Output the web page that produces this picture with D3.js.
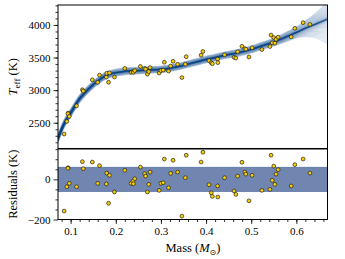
<!DOCTYPE html>
<html>
<head>
<meta charset="utf-8">
<script src="https://cdn.jsdelivr.net/npm/d3@7"></script>
<style>
  html, body { margin: 0; padding: 0; background: #fff; }
  text { font-family: "Liberation Serif", "DejaVu Serif", serif; fill: #000; }
</style>
</head>
<body>
<svg id="chart" width="345" height="259"></svg>
<script>
// observed stars: mass (Msun), Teff (K), residual to model (K)
var mass = [0.0856, 0.0916, 0.0945, 0.094, 0.097, 0.113, 0.126, 0.128, 0.148, 0.160,
  0.164, 0.179, 0.180, 0.186, 0.184, 0.197, 0.220, 0.234, 0.238, 0.239,
  0.242, 0.2545, 0.264, 0.266, 0.270, 0.273, 0.276, 0.296, 0.300, 0.305,
  0.3075, 0.317, 0.3215, 0.327, 0.337, 0.3465, 0.354, 0.356, 0.389, 0.393,
  0.4065, 0.4115, 0.414, 0.4255, 0.426, 0.441, 0.462, 0.466, 0.470, 0.4795,
  0.486, 0.488, 0.495, 0.502, 0.5237, 0.5414, 0.544, 0.5465, 0.550, 0.5525,
  0.555, 0.5597, 0.5885, 0.5967, 0.615, 0.630];
var teff = [2327, 2521, 2648, 2639, 2597, 2760, 3006, 2987, 3158, 3120,
  3230, 3201, 3259, 3264, 3121, 3201, 3333, 3274, 3286, 3274,
  3300, 3363, 3334, 3322, 3245, 3284, 3346, 3263, 3300, 3308,
  3428, 3293, 3370, 3442, 3397, 3193, 3398, 3513, 3537, 3593,
  3453, 3420, 3406, 3476, 3422, 3542, 3503, 3492, 3589, 3672,
  3635, 3629, 3509, 3650, 3623, 3669, 3845, 3726, 3806, 3721,
  3779, 3812, 3818, 3948, 4035, 4008];
var resid = [-158, -37, 58, 55, -20, -37, 88, 53, 86, -20,
  68, -23, 31, 20, -119, -63, 45, -20, -9, -22,
  3, 61, 28, 16, -63, -25, 36, -55, -20, -17,
  101, -42, 30, 95, 36, -183, 8, 120, 86, 135,
  -27, -67, -85, -33, -88, 8, -58, -75, 16, 85,
  36, 26, -107, 20, -55, -50, 120, -5, 66, -25,
  26, 48, -33, 73, 101, 31];

// median model relation
var curveMass = [0.072, 0.08, 0.0856, 0.09, 0.095, 0.10, 0.11, 0.12, 0.13, 0.14,
  0.15, 0.16, 0.17, 0.18, 0.19, 0.20, 0.22, 0.25, 0.28, 0.30,
  0.32, 0.34, 0.36, 0.38, 0.40, 0.42, 0.44, 0.46, 0.48, 0.50,
  0.52, 0.54, 0.56, 0.58, 0.60, 0.62, 0.64, 0.669];
var curveTeff = [2260, 2400, 2485, 2540, 2595, 2650, 2765, 2870, 2950, 3020,
  3085, 3140, 3190, 3228, 3252, 3268, 3288, 3300, 3312, 3320,
  3338, 3365, 3400, 3435, 3470, 3500, 3533, 3558, 3588, 3625,
  3670, 3715, 3765, 3825, 3885, 3950, 4005, 4090];

// spread of the posterior draws (K), below / above the median
var bandMass = [0.072, 0.15, 0.30, 0.45, 0.55, 0.60, 0.63, 0.65, 0.669];
var bandLo = [65, 55, 50, 52, 58, 85, 150, 240, 380];
var bandHi = [65, 55, 50, 52, 58, 85, 130, 190, 260];

var residScatter = 60;

var xTicks = [0.1, 0.2, 0.3, 0.4, 0.5, 0.6];
var teffTicks = [2500, 3000, 3500, 4000];
var residTicks = [-200, 0];

var svg = d3.select('#chart');
var left = 58, right = 327.5;
var top1 = 5, bot1 = 148.5, top2 = 149, bot2 = 219.5;

var x = d3.scaleLinear().domain([0.072, 0.669]).range([left, right]);
var yT = d3.scaleLinear().domain([2105, 4306]).range([bot1, top1]);
var yR = d3.scaleLinear().domain([-200, 151]).range([bot2, top2]);

var defs = svg.append('defs');
defs.append('clipPath').attr('id', 'clipTop').append('rect')
  .attr('x', left).attr('y', top1).attr('width', right - left).attr('height', bot1 - top1);
defs.append('clipPath').attr('id', 'clipRes').append('rect')
  .attr('x', left).attr('y', top2).attr('width', right - left).attr('height', bot2 - top2);

// ---- top panel: model draws
var spreadHi = d3.scaleLinear().domain(bandMass).range(bandHi);
var spreadLo = d3.scaleLinear().domain(bandMass).range(bandLo);
var line = d3.line().curve(d3.curveMonotoneX);

var gTop = svg.append('g').attr('clip-path', 'url(#clipTop)');
var nLines = 45;
for (let i = 0; i < nLines; i++) {
  let u = -1 + 2 * i / (nLines - 1);
  let k = Math.sign(u) * Math.pow(Math.abs(u), 2);
  let pts = curveMass.map(function(m, j) {
    let s = k > 0 ? spreadHi(m) : spreadLo(m);
    return [x(m), yT(curveTeff[j] + k * s)];
  });
  gTop.append('path')
    .attr('d', line(pts))
    .attr('fill', 'none')
    .attr('stroke', '#08468c')
    .attr('stroke-width', 1.3)
    .attr('stroke-opacity', 0.13);
}

// median line on top of the draws
gTop.append('path')
  .attr('d', line(curveMass.map(function(m, j) { return [x(m), yT(curveTeff[j])]; })))
  .attr('fill', 'none')
  .attr('stroke', '#0a3f80')
  .attr('stroke-width', 1.4)
  .attr('stroke-opacity', 0.55);

gTop.selectAll('circle')
  .data(mass)
  .enter().append('circle')
  .attr('cx', function(d) { return x(d); })
  .attr('cy', function(d, i) { return yT(teff[i]); })
  .attr('r', 1.9)
  .attr('fill', '#f7cc00')
  .attr('stroke', '#222')
  .attr('stroke-width', 0.7);

// ---- bottom panel: residuals
var gRes = svg.append('g').attr('clip-path', 'url(#clipRes)');
gRes.append('rect')
  .attr('x', left).attr('width', right - left)
  .attr('y', yR(residScatter))
  .attr('height', yR(-residScatter) - yR(residScatter))
  .attr('fill', '#7086b0')
  .attr('stroke', '#5a72a2')
  .attr('stroke-width', 0.8);

gRes.selectAll('circle')
  .data(mass)
  .enter().append('circle')
  .attr('cx', function(d) { return x(d); })
  .attr('cy', function(d, i) { return yR(resid[i]); })
  .attr('r', 1.9)
  .attr('fill', '#f7cc00')
  .attr('stroke', '#222')
  .attr('stroke-width', 0.7);

// ---- axes
function styleAxis(g) {
  g.select('.domain').remove();
  g.selectAll('line').attr('stroke', '#000').attr('stroke-width', 0.8);
  g.selectAll('text')
    .attr('font-family', '"Liberation Serif", "DejaVu Serif", serif')
    .attr('font-size', 11)
    .attr('fill', '#000');
}

svg.append('g').attr('transform', 'translate(' + left + ',0)')
  .call(d3.axisLeft(yT).tickValues(d3.range(2200, 4301, 100)).tickSize(2.5).tickFormat(''))
  .call(styleAxis);
svg.append('g').attr('transform', 'translate(' + left + ',0)')
  .call(d3.axisLeft(yT).tickValues(teffTicks).tickSize(4.5).tickPadding(3).tickFormat(d3.format('d')))
  .call(styleAxis);

svg.append('g').attr('transform', 'translate(' + left + ',0)')
  .call(d3.axisLeft(yR).tickValues([-150, -100, -50, 50, 100, 150]).tickSize(2.5).tickFormat(''))
  .call(styleAxis);
svg.append('g').attr('transform', 'translate(' + left + ',0)')
  .call(d3.axisLeft(yR).tickValues(residTicks).tickSize(4.5).tickPadding(3).tickFormat(d3.format('d')))
  .call(styleAxis);

svg.append('g').attr('transform', 'translate(0,' + bot2 + ')')
  .call(d3.axisBottom(x).tickValues(d3.range(0.08, 0.67, 0.02)).tickSize(2.5).tickFormat(''))
  .call(styleAxis);
svg.append('g').attr('transform', 'translate(0,' + bot2 + ')')
  .call(d3.axisBottom(x).tickValues(xTicks).tickSize(4.5).tickPadding(3).tickFormat(d3.format('.1f')))
  .call(styleAxis);

// frames
svg.append('rect').attr('x', left).attr('y', top1)
  .attr('width', right - left).attr('height', bot1 - top1)
  .attr('fill', 'none').attr('stroke', '#000').attr('stroke-width', 1);
svg.append('rect').attr('x', left).attr('y', top2)
  .attr('width', right - left).attr('height', bot2 - top2)
  .attr('fill', 'none').attr('stroke', '#000').attr('stroke-width', 1);

// labels
var ty = svg.append('text')
  .attr('transform', 'translate(17,' + ((top1 + bot1) / 2) + ') rotate(-90)')
  .attr('text-anchor', 'middle')
  .attr('font-size', 12.5);
ty.append('tspan').attr('font-style', 'italic').text('T');
ty.append('tspan').attr('font-size', 9).attr('dy', 2.5).text('eff');
ty.append('tspan').attr('dy', -2.5).text(' (K)');

svg.append('text')
  .attr('transform', 'translate(17,' + ((top2 + bot2) / 2) + ') rotate(-90)')
  .attr('text-anchor', 'middle')
  .attr('font-size', 12.5)
  .text('Residuals (K)');

var tx = svg.append('text')
  .attr('x', 193).attr('y', 252)
  .attr('text-anchor', 'middle')
  .attr('font-size', 12.5);
tx.append('tspan').text('Mass (');
tx.append('tspan').attr('font-style', 'italic').text('M');
tx.append('tspan').attr('font-size', 8).attr('dy', 2.5).attr('font-family', '"DejaVu Sans", sans-serif').text('\u2299');
tx.append('tspan').attr('dy', -2.5).text(')');
</script>
</body>
</html>
